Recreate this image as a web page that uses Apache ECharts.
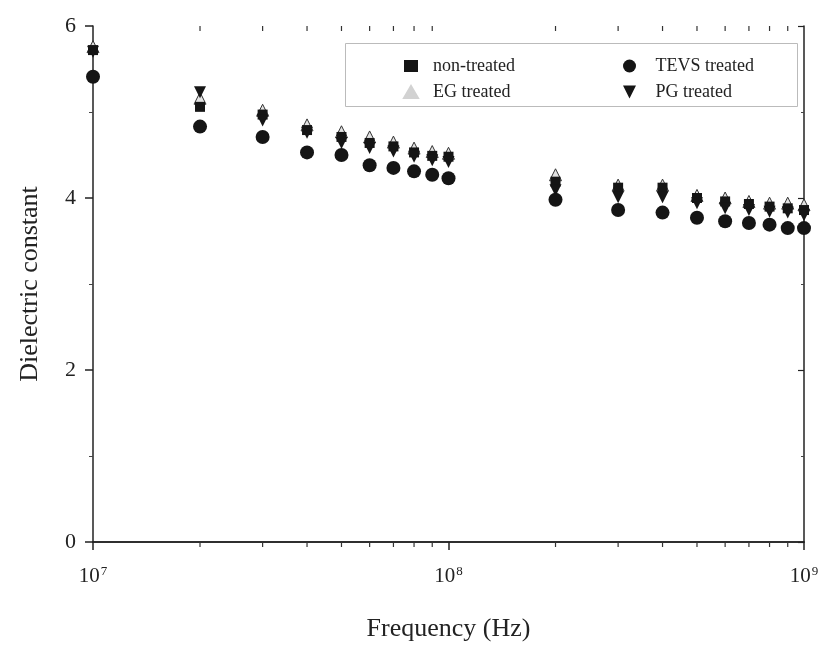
<!DOCTYPE html>
<html>
<head>
<meta charset="utf-8">
<script src="https://cdn.jsdelivr.net/npm/echarts@6/dist/echarts.min.js"></script>
<style>
  html, body { margin: 0; padding: 0; background: #fff; }
  #chart { width: 828px; height: 647px; }
</style>
</head>
<body>
<div id="chart"></div>
<script>
// frequencies (Hz)
var freqs = [1e7, 2e7, 3e7, 4e7, 5e7, 6e7, 7e7, 8e7, 9e7, 1e8,
             2e8, 3e8, 4e8, 5e8, 6e8, 7e8, 8e8, 9e8, 1e9];
var nonTreated = [5.72, 5.06, 4.97, 4.79, 4.71, 4.64, 4.60, 4.53, 4.49, 4.48,
                  4.19, 4.12, 4.12, 4.00, 3.96, 3.93, 3.90, 3.88, 3.86];
var egTreated = [5.76, 5.16, 5.02, 4.85, 4.77, 4.71, 4.65, 4.58, 4.54, 4.52,
                 4.27, 4.15, 4.15, 4.03, 4.00, 3.96, 3.94, 3.94, 3.92];
var pgTreated = [5.70, 5.23, 4.90, 4.76, 4.64, 4.58, 4.54, 4.48, 4.44, 4.42,
                 4.09, 4.01, 4.01, 3.94, 3.88, 3.86, 3.84, 3.83, 3.80];
var tevsTreated = [5.41, 4.83, 4.71, 4.53, 4.50, 4.38, 4.35, 4.31, 4.27, 4.23,
                   3.98, 3.86, 3.83, 3.77, 3.73, 3.71, 3.69, 3.65, 3.65];
// minor ticks on the log axis
var minorTicks = [2e7, 3e7, 4e7, 5e7, 6e7, 7e7, 8e7, 9e7,
                  2e8, 3e8, 4e8, 5e8, 6e8, 7e8, 8e8, 9e8];

var serif = 'Liberation Serif';
var dark = '#151515';
var downTri = 'path://M0,0 L10,0 L5,10 Z';

function pairs(ys) {
  return freqs.map(function (f, i) { return [f, ys[i]]; });
}

var chart = echarts.init(document.getElementById('chart'));

chart.setOption({
  animation: false,
  backgroundColor: '#fff',
  grid: { left: 93, right: 24, top: 26, bottom: 105 },
  xAxis: [
    {
      type: 'log', logBase: 10, min: 1e7, max: 1e9, position: 'bottom',
      name: 'Frequency (Hz)', nameLocation: 'middle', nameGap: 74,
      nameTextStyle: { fontFamily: serif, fontSize: 26, color: '#222' },
      axisLine: { lineStyle: { color: '#222', width: 1.5 } },
      axisTick: { inside: false, length: 8, lineStyle: { color: '#222', width: 1.5 } },
      splitLine: { show: false },
      axisLabel: {
        margin: 23, color: '#222', fontFamily: serif, fontSize: 21,
        formatter: function (v) {
          return '10{sup|' + Math.round(Math.log10(v)) + '}';
        },
        rich: { sup: { fontSize: 13, fontFamily: serif, color: '#222', padding: [0, 0, 10, 1] } }
      }
    },
    {
      type: 'log', logBase: 10, min: 1e7, max: 1e9, position: 'top',
      axisLine: { lineStyle: { color: '#222', width: 1.5 } },
      axisTick: { inside: true, length: 8, lineStyle: { color: '#222', width: 1.5 } },
      axisLabel: { show: false },
      splitLine: { show: false }
    }
  ],
  yAxis: [
    {
      type: 'value', min: 0, max: 6, interval: 2, position: 'left',
      name: 'Dielectric constant', nameLocation: 'middle', nameGap: 50,
      nameTextStyle: { fontFamily: serif, fontSize: 26, color: '#222' },
      axisLine: { show: true, lineStyle: { color: '#222', width: 1.5 } },
      axisTick: { show: true, inside: false, length: 8, lineStyle: { color: '#222', width: 1.5 } },
      minorTick: { show: true, splitNumber: 2, length: 4, lineStyle: { color: '#444' } },
      splitLine: { show: false },
      axisLabel: { margin: 17, color: '#222', fontFamily: serif, fontSize: 22 }
    },
    {
      type: 'value', min: 0, max: 6, interval: 2, position: 'right',
      axisLine: { show: true, lineStyle: { color: '#222', width: 1.5 } },
      axisTick: { show: true, inside: true, length: 6, lineStyle: { color: '#222', width: 1.2 } },
      minorTick: { show: true, splitNumber: 2, length: 3, lineStyle: { color: '#444' } },
      splitLine: { show: false },
      axisLabel: { show: false }
    }
  ],
  legend: [
    {
      orient: 'vertical', left: 398, top: 52, itemGap: 8,
      itemWidth: 14, itemHeight: 12,
      textStyle: { fontFamily: serif, fontSize: 18, color: '#222', padding: [0, 0, 0, 10] },
      data: [
        'non-treated',
        { name: 'EG treated', itemStyle: { color: '#d2d2d2', borderColor: '#d2d2d2' } }
      ]
    },
    {
      orient: 'vertical', left: 618, top: 52, itemGap: 8,
      itemWidth: 14, itemHeight: 13,
      textStyle: { fontFamily: serif, fontSize: 18, color: '#222', padding: [0, 0, 0, 14] },
      data: ['TEVS treated', { name: 'PG treated', icon: downTri }]
    }
  ],
  graphic: [
    {
      type: 'rect', left: 345, top: 43, z: 0,
      shape: { width: 452, height: 63 },
      style: { fill: '#fff', stroke: '#bbb', lineWidth: 1 }
    }
  ],
  series: [
    {
      name: 'non-treated', type: 'scatter', symbol: 'rect', symbolSize: 10,
      itemStyle: { color: dark, opacity: 1 }, data: pairs(nonTreated), z: 3
    },
    {
      name: 'EG treated', type: 'scatter', symbol: 'triangle', symbolSize: 12,
      itemStyle: { color: '#e2e2e2', borderColor: '#333', borderWidth: 1, opacity: 1 },
      data: pairs(egTreated), z: 2
    },
    {
      name: 'PG treated', type: 'scatter', symbol: 'triangle', symbolRotate: 180, symbolSize: 12,
      itemStyle: { color: dark, opacity: 1 }, data: pairs(pgTreated), z: 3
    },
    {
      name: 'TEVS treated', type: 'scatter', symbol: 'circle', symbolSize: 14,
      itemStyle: { color: dark, opacity: 1 }, data: pairs(tevsTreated), z: 4
    },
    {
      // minor ticks for the log x axes (bottom outward, top inward)
      type: 'custom', silent: true, z: 1,
      data: minorTicks,
      renderItem: function (params, api) {
        var f = api.value(0);
        var b = api.coord([f, 0]);
        var t = api.coord([f, 6]);
        var st = { stroke: '#333', lineWidth: 1.2 };
        return {
          type: 'group',
          children: [
            { type: 'line', shape: { x1: b[0], y1: b[1], x2: b[0], y2: b[1] + 5 }, style: st },
            { type: 'line', shape: { x1: t[0], y1: t[1], x2: t[0], y2: t[1] + 5 }, style: st }
          ]
        };
      },
      encode: { x: 0 }
    }
  ]
});
</script>
</body>
</html>
